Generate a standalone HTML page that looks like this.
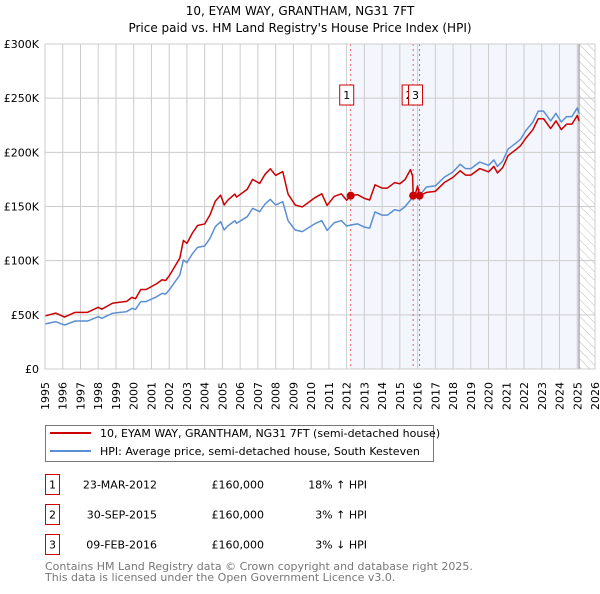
<!DOCTYPE html>
<html><head><meta charset="utf-8"><style>
body{margin:0;background:#fff;width:600px;height:590px;overflow:hidden;font-family:"DejaVu Sans","Liberation Sans",sans-serif;}
svg text{font-family:"DejaVu Sans","Liberation Sans",sans-serif;}
</style></head><body>
<svg id="chart" width="600" height="590">
<defs><pattern id="hatch" width="6" height="6" patternUnits="userSpaceOnUse" patternTransform="rotate(-45)"><line x1="0" y1="0" x2="0" y2="6" stroke="#bbb" stroke-width="1"/></pattern></defs>
<text x="300" y="15" text-anchor="middle" font-size="12">10, EYAM WAY, GRANTHAM, NG31 7FT</text>
<text x="300" y="32" text-anchor="middle" font-size="12">Price paid vs. HM Land Registry's House Price Index (HPI)</text>
<g id="plot"></g>
<g>
<rect x="45.5" y="425.5" width="388" height="36" fill="#fff" stroke="#777"/>
<line x1="50" y1="433" x2="91" y2="433" stroke="#cc0000" stroke-width="2"/>
<text x="100" y="437" font-size="11">10, EYAM WAY, GRANTHAM, NG31 7FT (semi-detached house)</text>
<line x1="50" y1="451" x2="91" y2="451" stroke="#5b8fd4" stroke-width="2"/>
<text x="100" y="455" font-size="11">HPI: Average price, semi-detached house, South Kesteven</text>
</g>
<g id="table" font-size="11"></g>
<text x="45" y="570" font-size="11" fill="#777">Contains HM Land Registry data © Crown copyright and database right 2025.</text>
<text x="45" y="581" font-size="11" fill="#777">This data is licensed under the Open Government Licence v3.0.</text>
</svg>
<script>
const hpiYears=[1995.0,1995.6,1996.1,1996.7,1997.4,1998.0,1998.2,1998.8,1999.1,1999.6,1999.9,2000.1,2000.4,2000.7,2001.3,2001.6,2001.8,2002.0,2002.6,2002.8,2003.0,2003.3,2003.6,2004.0,2004.3,2004.6,2004.9,2005.1,2005.3,2005.7,2005.8,2006.4,2006.7,2006.9,2007.1,2007.4,2007.7,2008.0,2008.4,2008.7,2009.1,2009.5,2010.2,2010.6,2010.9,2011.3,2011.7,2012.0,2012.3,2012.6,2013.0,2013.3,2013.6,2014.0,2014.3,2014.7,2015.0,2015.3,2015.6,2015.75,2016.0,2016.2,2016.5,2017.0,2017.5,2018.0,2018.4,2018.7,2019.0,2019.5,2020.0,2020.3,2020.5,2020.8,2021.1,2021.5,2021.8,2022.1,2022.5,2022.8,2023.1,2023.5,2023.8,2024.1,2024.4,2024.7,2025.0,2025.1];
const hpiValues=[41.5,43.7,40.6,44.3,44.3,48.3,46.8,51.4,52,52.9,56,55,62.2,62.2,66.8,69.8,69.2,72.9,86.8,100.6,98.2,106.2,112.3,113.5,120.6,131.4,136,128.3,132,136.9,134.5,140.6,148.3,146.8,145.2,152.3,156.6,151.4,154.5,136.9,128.3,126.8,134,137,128,135,137,132,133,134,131,130,145,142,142,147,146,150,156,159,161,162,168,169,177,182,189,185,185,191,188,193,187,192,203,208,212,220,228,238,238,229,236,228,233,233,241,236];
const propYears=[1995.0,1995.6,1996.1,1996.7,1997.4,1998.0,1998.2,1998.8,1999.1,1999.6,1999.9,2000.1,2000.4,2000.7,2001.3,2001.6,2001.8,2002.0,2002.6,2002.8,2003.0,2003.3,2003.6,2004.0,2004.3,2004.6,2004.9,2005.1,2005.3,2005.7,2005.8,2006.4,2006.7,2006.9,2007.1,2007.4,2007.7,2008.0,2008.4,2008.7,2009.1,2009.5,2010.2,2010.6,2010.9,2011.3,2011.7,2012.0,2012.23,2012.6,2013.0,2013.3,2013.6,2014.0,2014.3,2014.7,2015.0,2015.3,2015.6,2015.72,2015.75,2015.9,2016.0,2016.11,2016.5,2017.0,2017.5,2018.0,2018.4,2018.7,2019.0,2019.5,2020.0,2020.3,2020.5,2020.8,2021.1,2021.5,2021.8,2022.1,2022.5,2022.8,2023.1,2023.5,2023.8,2024.1,2024.4,2024.7,2025.0,2025.1];
const propValues=[49,51.6,47.9,52.3,52.3,57,55.2,60.7,61.4,62.4,66.1,64.9,73.4,73.4,78.8,82.4,81.7,86,102.4,118.7,115.9,125.3,132.5,133.9,142.3,155,160.5,151.4,155.8,161.5,158.7,165.9,175,173.2,171.3,179.7,184.8,178.7,182.3,161.5,151.4,149.6,158,161.7,151,159.3,161.7,155.8,160,161,157.5,156,170,167,167,172,171,175,184,178,160,163,169,160,163,164,172,177,183,179,179,185,182,187,181,186,197,202,206,213,221,231,231,222,229,221,226,226,234,229];
const saleLabels=["1","2","3"];
const saleYears=[2012.23,2015.75,2016.11];
const salePrices=[160,160,160];
const saleDates=["23-MAR-2012","30-SEP-2015","09-FEB-2016"];
const salePriceText=["£160,000","£160,000","£160,000"];
const saleHpiText=["18% ↑ HPI","3% ↑ HPI","3% ↓ HPI"];
const yTicks=[0,50,100,150,200,250,300];
const yTickLabels=["£0","£50K","£100K","£150K","£200K","£250K","£300K"];
const xTicks=[1995,1996,1997,1998,1999,2000,2001,2002,2003,2004,2005,2006,2007,2008,2009,2010,2011,2012,2013,2014,2015,2016,2017,2018,2019,2020,2021,2022,2023,2024,2025,2026];
const dataEnd=2025.1;

const NS="http://www.w3.org/2000/svg";
const X0=45,X1=595,Y0=369,Y1=44;
const xs=y=>X0+(y-1995)/(2026-1995)*(X1-X0);
const ys=v=>Y0-v/300*(Y0-Y1);
const plot=document.getElementById('plot');
function mk(tag,attrs,parent){const e=document.createElementNS(NS,tag);for(const k in attrs)e.setAttribute(k,attrs[k]);(parent||plot).appendChild(e);return e;}

let e=mk('rect',{x:xs(saleYears[0]),y:Y1,width:xs(dataEnd)-xs(saleYears[0]),height:Y0-Y1,fill:'#f3f6fd'});


e=mk('rect',{x:xs(dataEnd),y:Y1,width:X1-xs(dataEnd),height:Y0-Y1,fill:'url(#hatch)'});


xTicks.forEach(t=>{
  e=mk('line',{x1:xs(t),x2:xs(t),y1:Y1,y2:Y0,stroke:'#ccc','stroke-width':1});
  
  
  e=mk('text',{x:0,y:0,transform:`translate(${xs(t)+4},${Y0+13}) rotate(-90)`,'text-anchor':'end','font-size':11});
  e.textContent=t;
  
  
});
yTicks.forEach((t,i)=>{
  e=mk('line',{x1:X0,x2:X1,y1:ys(t),y2:ys(t),stroke:'#ccc','stroke-width':1});
  
  
  e=mk('text',{x:X0-6,y:ys(t)+4,'text-anchor':'end','font-size':11});
  e.textContent=yTickLabels[i];
  
  
});
e=mk('line',{x1:xs(dataEnd),x2:xs(dataEnd),y1:Y1,y2:Y0,stroke:'#999','stroke-width':1.2});


saleYears.forEach((s,i)=>{
  e=mk('line',{x1:xs(s),x2:xs(s),y1:Y1,y2:Y0,stroke:'#e06060','stroke-width':1,'stroke-dasharray':'2,3'});
  
  
});
e=mk('polyline',{points:hpiYears.map((y,i)=>xs(y)+','+ys(hpiValues[i])).join(' '),fill:'none',stroke:'#5b8fd4','stroke-width':1.5,'stroke-linejoin':'round'});


e=mk('polyline',{points:propYears.map((y,i)=>xs(y)+','+ys(propValues[i])).join(' '),fill:'none',stroke:'#cc0000','stroke-width':1.5,'stroke-linejoin':'round'});


saleYears.forEach((s,i)=>{
  e=mk('circle',{cx:xs(s),cy:ys(salePrices[i]),r:4,fill:'#cc0000'});
  
  
  const bx=xs(s)-4;
  e=mk('rect',{x:bx-7,y:85,width:14,height:20,fill:'#fff',stroke:'#cc0000','stroke-width':1});
  
  
  e=mk('text',{x:bx,y:99,'text-anchor':'middle','font-size':11});
  e.textContent=saleLabels[i];
  
  
});
e=mk('rect',{x:X0,y:Y1,width:X1-X0,height:Y0-Y1,fill:'none',stroke:'#ccc'});



const tbl=document.getElementById('table');
saleLabels.forEach((l,i)=>{
  const y=485+i*30;
  e=mk('rect',{x:45.5,y:y-10.5,width:14,height:20,fill:'#fff',stroke:'#cc0000'},tbl);
  
  
  e=mk('text',{x:52.5,y:y+3.5,'text-anchor':'middle'},tbl);e.textContent=l;
  
  
  e=mk('text',{x:157,y:y+3.5,'text-anchor':'end'},tbl);e.textContent=saleDates[i];
  
  
  e=mk('text',{x:264,y:y+3.5,'text-anchor':'end'},tbl);e.textContent=salePriceText[i];
  
  
  e=mk('text',{x:367,y:y+3.5,'text-anchor':'end'},tbl);e.textContent=saleHpiText[i];
  
  
});
</script>
</body></html>
